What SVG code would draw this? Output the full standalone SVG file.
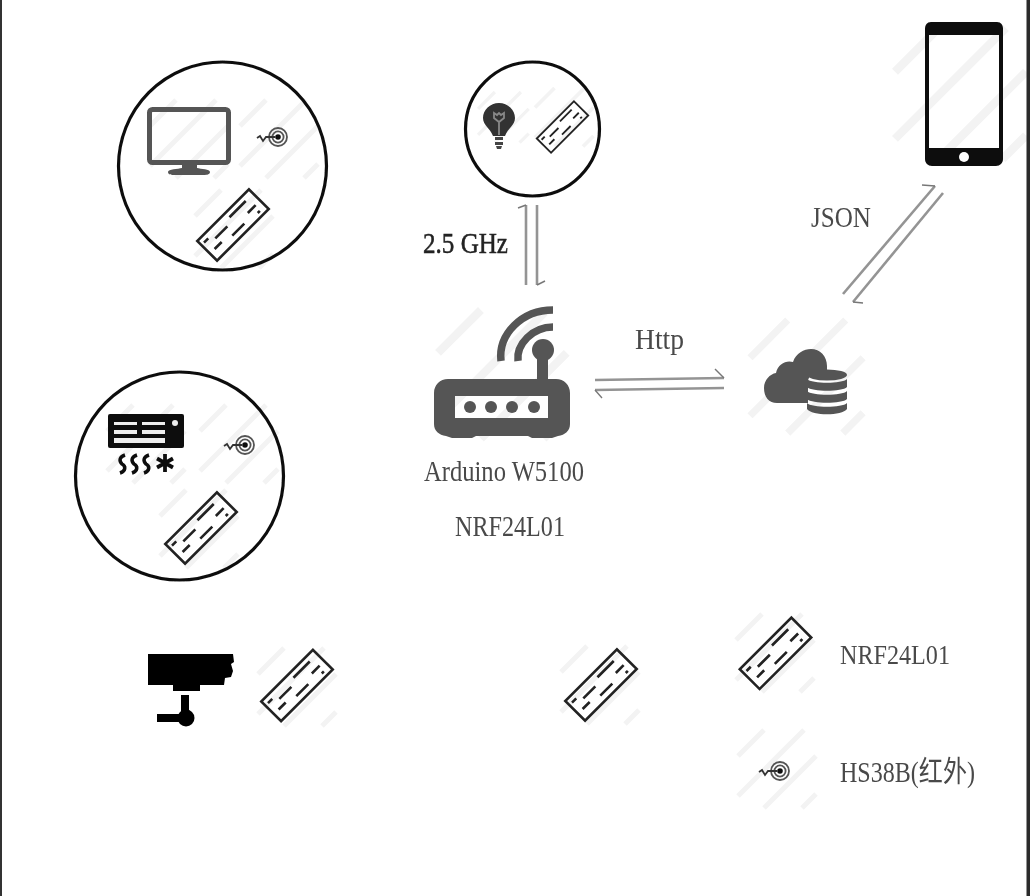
<svg xmlns="http://www.w3.org/2000/svg" width="1030" height="896" viewBox="0 0 1030 896">
<style>
text{font-family:"Liberation Serif","Noto Sans CJK SC",serif;font-size:29px;fill:#4a4a4a}
.ring{fill:none;stroke:#111;stroke-width:3.2}
.wm line{stroke:#f3f3f3;stroke-width:5}
.wire line{stroke:#949494;stroke-width:2.6;fill:none}
.wire path{stroke:#777;stroke-width:1.4;fill:none}
.gray{fill:#555}
</style>
<defs>
<filter id="soft" x="0" y="0" width="100%" height="100%"><feGaussianBlur stdDeviation="0.55"/></filter>
<g id="wm" class="wm"><line x1="0" y1="26" x2="26" y2="0"/><line x1="0" y1="66" x2="66" y2="0"/><line x1="26" y1="78" x2="78" y2="26"/><line x1="64" y1="78" x2="78" y2="64"/></g>
<g id="chip" fill="none" stroke="#222">
<rect x="-36.5" y="-14" width="73" height="28" stroke-width="2.6"/>
<path stroke-width="2.6" d="M3-8H26M-33-8H-27M19 2H30M26 9H29M-22-3H-5M-8 7H9M-30 4H-20"/>
</g>
<g id="target" fill="none" stroke="#555">
<circle r="9" stroke-width="1.8"/><circle r="5.600" stroke-width="1.8"/><circle r="2.800" fill="#111" stroke="none"/>
<path stroke-width="1.800" stroke="#333" d="M-3 0H-12L-15 4L-18-1L-21 1"/>
</g>
</defs>
<g filter="url(#soft)">

<g id="node-monitor">
<use href="#wm" x="150" y="100"/><use href="#wm" x="240" y="100"/><use href="#wm" x="195" y="190"/>
<circle class="ring" cx="222.500" cy="166" r="104"/>
<rect x="149.500" y="109.500" width="79" height="53" rx="3" fill="none" stroke="#555" stroke-width="5"/>
<path class="gray" d="M182 165H197V168C201 169 210 169 210 172C210 175 205 175 203 175H175C172 175 168 175 168 172C168 169 178 169 182 168Z"/>
<use href="#target" x="278" y="137"/>
<use href="#chip" transform="translate(233 225) rotate(-45)"/>
</g>

<g id="node-lamp">
<use href="#wm" transform="translate(478 92) scale(.65)"/><use href="#wm" transform="translate(535 88) scale(.75)"/>
<circle class="ring" cx="532.500" cy="129" r="67"/>
<path fill="#333" d="M499 103C508 103 515 110 515 118C515 125 508 128 505 136H493C490 128 483 125 483 118C483 110 490 103 499 103Z"/>
<path fill="none" stroke="#888" stroke-width="1.800" d="M494 113L497 115L499 113L501 115L504 113L504 118L499 122L494 118ZM499 122V135"/>
<path fill="#444" d="M495 137H503V140H495ZM495 142H503V145H495ZM496 146H502L501 149H497Z"/>
<use href="#chip" transform="translate(562.500 127) rotate(-45) scale(.72)"/>
</g>

<g id="node-router">
<use href="#wm" transform="translate(438 310) scale(1.65)"/>
<path fill="none" stroke="#555" stroke-width="7.500" stroke-linecap="butt" d="M501 361C498 334 522 310 553 310M518 361C516 344 533 327 553 327"/>
<circle class="gray" cx="543" cy="350" r="11"/>
<rect class="gray" x="537" y="352" width="11" height="30"/>
<path class="gray" fill-rule="evenodd" d="M448 379H556C564 379 570 385 570 393V424C570 431 565 435 558 436L552 438H532L528 436H476L472 438H452L446 436C439 435 434 431 434 424V393C434 385 440 379 448 379ZM455 396V418H548V396Z"/>
<circle class="gray" cx="470" cy="407" r="6"/><circle class="gray" cx="491" cy="407" r="6"/><circle class="gray" cx="512" cy="407" r="6"/><circle class="gray" cx="534" cy="407" r="6"/>
<text x="424" y="481" textLength="160" lengthAdjust="spacingAndGlyphs">Arduino W5100</text>
<text x="455" y="536" textLength="110" lengthAdjust="spacingAndGlyphs">NRF24L01</text>
</g>

<g id="node-cloud">
<use href="#wm" transform="translate(750 320) scale(1.45)"/>
<path class="gray" d="M777 403C769 403 764 397 764 388C764 380 770 374 776 373C778 364 786 360 793 362C796 353 804 349 811 349C820 349 827 356 827 366V372C817 372 808 375 808 381V403Z"/>
<ellipse class="gray" cx="827" cy="375" rx="20" ry="5.500"/>
<path class="gray" d="M807 379C812 384 842 384 847 379V387C842 392 812 392 807 387ZM807 391C812 396 842 396 847 391V399C842 404 812 404 807 399ZM807 403C812 408 842 408 847 403V409C842 416 812 416 807 409Z"/>
</g>

<g id="node-phone">
<use href="#wm" transform="translate(895 28) scale(1.68)"/>
<path fill="#0a0a0a" fill-rule="evenodd" d="M931 22H997C1001 22 1003 25 1003 29V159C1003 163 1000 166 996 166H932C928 166 925 163 925 159V29C925 25 927 22 931 22ZM929 35V148H999V35Z"/>
<circle cx="964" cy="157" r="5" fill="#fff"/>
</g>

<g id="node-ac">
<use href="#wm" x="107" y="405"/><use href="#wm" x="200" y="405"/><use href="#wm" x="160" y="490"/>
<circle class="ring" cx="179.500" cy="476" r="104"/>
<rect x="108" y="414" width="76" height="34" rx="2" fill="#0a0a0a"/>
<path fill="#eee" d="M114 422H137V425H114ZM142 422H165V425H142ZM114 430H137V434H114ZM142 430H165V434H142ZM114 438H165V443H114Z"/>
<circle cx="175" cy="423" r="3" fill="#eee"/>
<path fill="none" stroke="#111" stroke-width="3.500" d="M125 455C119 457 119 461 122 464C126 466 126 471 120 473M137 455C131 457 131 461 134 464C138 466 138 471 132 473M149 455C143 457 143 461 146 464C150 466 150 471 144 473"/>
<path fill="none" stroke="#111" stroke-width="3.800" d="M165 454V472M157 458.500L173 467.500M157 467.500L173 458.500"/>
<use href="#target" x="245" y="445"/>
<use href="#chip" transform="translate(201 528) rotate(-45)"/>
</g>

<g id="node-camera">
<path fill="#000" d="M148 654H233L234 662L231 664L233 671L231 677L225 678L224 685H200V691H173V685H148Z"/>
<rect x="181" y="695" width="8" height="20" fill="#000"/>
<circle cx="186" cy="718" r="8.500" fill="#000"/>
<rect x="157" y="714" width="25" height="8" fill="#000"/>
<use href="#wm" x="258" y="648"/>
<use href="#chip" transform="translate(297 685.500) rotate(-45)"/>
</g>

<g id="node-chip-mid">
<use href="#wm" x="561" y="646"/>
<use href="#chip" transform="translate(601 685) rotate(-45)"/>
</g>

<g id="legend-nrf">
<use href="#wm" x="736" y="614"/>
<use href="#chip" transform="translate(775.500 653.300) rotate(-45)"/>
<text x="840" y="664" textLength="110" lengthAdjust="spacingAndGlyphs" style="font-size:27px">NRF24L01</text>
</g>

<g id="legend-hs">
<use href="#wm" x="738" y="730"/>
<use href="#target" x="780" y="771"/>
<text x="840" y="782" textLength="135" lengthAdjust="spacingAndGlyphs" style="font-size:29px">HS38B(红外)</text>
</g>

<g id="connectors" class="wire">
<line x1="526" y1="205" x2="526" y2="285"/><path d="M526 205L518 208"/>
<line x1="537" y1="205" x2="537" y2="285"/><path d="M537 285L545 281"/>
<line x1="595" y1="380" x2="724" y2="378"/><path d="M724 378L715 369"/>
<line x1="724" y1="388" x2="595" y2="390"/><path d="M595 390L602 398"/>
<line x1="843" y1="294" x2="935" y2="186"/>
<path d="M935 186L922 185"/>
<line x1="943" y1="193" x2="853" y2="302"/>
<path d="M853 302L863 303"/>
</g>

<g id="labels">
<text x="423" y="253" textLength="85" lengthAdjust="spacingAndGlyphs" style="fill:#222;stroke:#222;stroke-width:.5">2.5 GHz</text>
<text x="635" y="349" textLength="49" lengthAdjust="spacingAndGlyphs">Http</text>
<text x="811" y="227" textLength="60" lengthAdjust="spacingAndGlyphs">JSON</text>
</g>

<rect x="0" y="0" width="2" height="896" fill="#333"/>
<rect x="1026.500" y="0" width="3.500" height="896" fill="#2a2a2a"/>
</g>
</svg>
